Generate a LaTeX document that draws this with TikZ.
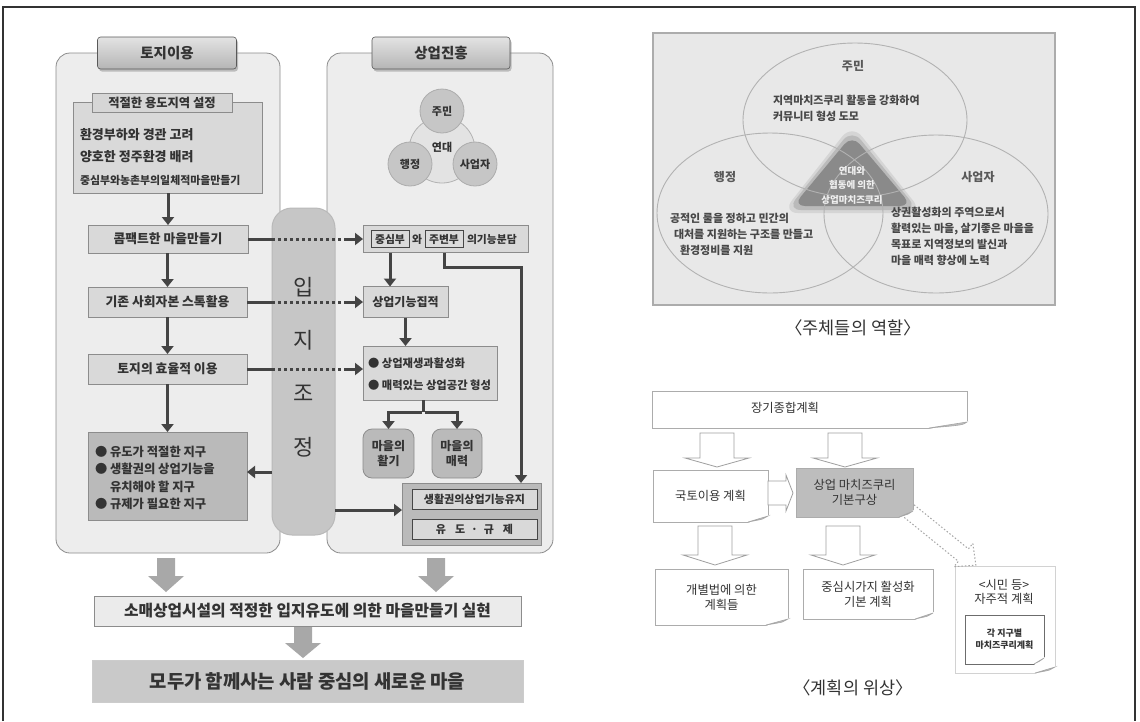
\documentclass[tikz,border=0pt]{standalone}
\usepackage{fontspec}
\setmainfont{Noto Sans CJK KR}
\usetikzlibrary{calc,shadows,arrows.meta}
\definecolor{txt}{HTML}{333333}
\definecolor{panel}{HTML}{EDEDED}
\definecolor{pborder}{HTML}{8C8C8C}
\definecolor{boxlt}{HTML}{D9D9D9}
\definecolor{boxmd}{HTML}{BABABA}
\definecolor{colfill}{HTML}{C6C6C6}
\definecolor{arrowc}{HTML}{444444}
\definecolor{blkarr}{HTML}{A8A8A8}
\definecolor{venn}{HTML}{E8E8E8}
\definecolor{tri}{HTML}{8A8A8A}
\definecolor{plan}{HTML}{BDBDBD}
\tikzset{
  pics/blk/.style args={#1/#2/#3/#4}{code={
    \fill[blkarr] (0,-#2) -- ({#1-#4},-#2) -- ({#1-#4},-#3) -- (#1,0) -- ({#1-#4},#3) -- ({#1-#4},#2) -- (0,#2) -- cycle;}},
  pics/hol/.style args={#1/#2/#3/#4}{code={
    \filldraw[fill=white, draw=gray!75, line width=0.8pt] (0,-#2) -- ({#1-#4},-#2) -- ({#1-#4},-#3) -- (#1,0) -- ({#1-#4},#3) -- ({#1-#4},#2) -- (0,#2) -- cycle;}},
  pics/dotarr/.style args={#1/#2/#3/#4}{code={
    \draw[gray!70, line width=1pt, dash pattern=on 1.5pt off 2pt] (0,-#2) -- ({#1-#4},-#2) -- ({#1-#4},-#3) -- (#1,0) -- ({#1-#4},#3) -- ({#1-#4},#2) -- (0,#2);}},
}
\newcommand{\pcurl}[2]{%
  \fill[white] ([xshift=-#2pt,yshift=-1pt]#1.south east) -- ([xshift=1pt,yshift=-1pt]#1.south east) -- ([xshift=1pt,yshift=7pt]#1.south east) -- cycle;
  \filldraw[fill=gray!50, draw=gray!70, line width=0.6pt] ([xshift=-#2pt]#1.south east) -- ([yshift=6pt]#1.south east) .. controls ([xshift=-4pt,yshift=3pt]#1.south east) .. ([xshift=-#2pt]#1.south east) -- cycle;}
\begin{document}
\begin{tikzpicture}[x=1pt,y=-1pt,
  every node/.style={text=txt, inner sep=0pt, outer sep=0pt},
  panelbox/.style={draw=pborder, fill=panel, rounded corners=14pt, line width=0.8pt},
  titlebox/.style={draw=gray!70!black, top color=gray!22, bottom color=gray!58, rounded corners=3pt,
    drop shadow={shadow xshift=1.5pt, shadow yshift=-2.5pt, opacity=0.45},
    font=\fontsize{14.5}{16}\selectfont\bfseries, line width=0.6pt},
  lbox/.style={draw=pborder, fill=boxlt, line width=0.8pt, font=\fontsize{12.8}{14}\selectfont\bfseries, align=center},
  rbox/.style={draw=pborder, fill=boxlt, line width=0.8pt, font=\fontsize{12}{14}\selectfont\bfseries, align=center},
  mbox/.style={draw=pborder, fill=boxmd, line width=0.8pt, font=\fontsize{12}{15}\selectfont\bfseries, align=center},
  ltxt/.style={font=\fontsize{13}{14}\selectfont\bfseries},
  subbox/.style={draw=gray!55!black, fill=gray!28, line width=0.7pt, minimum width=38pt, minimum height=17pt, font=\fontsize{10.8}{12}\selectfont\bfseries},
  arr/.style={draw=arrowc, line width=3pt, -{Triangle[length=8pt,width=12pt]}},
  thk/.style={draw=arrowc, line width=3pt},
  dotl/.style={draw=arrowc, line width=3pt, dash pattern=on 3pt off 3pt},
  coltxt/.style={font=\fontsize{22}{24}\selectfont},
  smallc/.style={circle, draw=gray!65, fill=gray!45, minimum size=44pt, line width=0.8pt, font=\fontsize{11}{12}\selectfont\bfseries},
  vtxt/.style={font=\fontsize{11}{16}\selectfont\bfseries, align=left, text=black!72},
  vlab/.style={font=\fontsize{12}{14}\selectfont\bfseries, text=black!65},
  paper/.style={draw=gray!65, fill=white, line width=0.8pt, font=\fontsize{12.3}{15}\selectfont, align=center},
  captext/.style={font=\fontsize{17.5}{19}\selectfont, text=black!80}
]
\useasboundingbox (0,0) rectangle (1140,721);
\fill[white] (0,0) rectangle (1140,721);
\draw[line width=1.8pt, black!80] (3,721) -- (3,7) -- (1135,7) -- (1135,721);

% ---------- left diagram: panels ----------
\node[panelbox, minimum width=224pt, minimum height=500pt] (pL) at (168,303) {};
\node[panelbox, minimum width=226pt, minimum height=500pt] (pR) at (440,303) {};
\node[titlebox, minimum width=139pt, minimum height=32pt] (tL) at (167,53) {토지이용};
\node[titlebox, minimum width=138pt, minimum height=32pt] (tR) at (441,53) {상업진흥};

% column
\node[draw=gray!55, fill=colfill, rounded corners=20pt, minimum width=63pt, minimum height=327pt, line width=1pt] (col) at (303.5,371.5) {};
\node[coltxt] (c1) at (303.5,287) {입};
\node[coltxt] (c2) at (303.5,340) {지};
\node[coltxt] (c3) at (303.5,393) {조};
\node[coltxt] (c4) at (303.5,447) {정};

% left boxes
\node[lbox, minimum width=189pt, minimum height=91pt] (A) at (167.5,147.5) {};
\node[lbox, fill=gray!32, minimum width=140pt, minimum height=19pt, font=\fontsize{12.3}{14}\selectfont\bfseries] (Alab) at (162,102.5) {적절한 용도지역 설정};
\node[ltxt, anchor=west] (A1) at (80,135) {환경부하와 경관 고려};
\node[ltxt, anchor=west] (A2) at (80,157) {양호한 정주환경 배려};
\node[ltxt, anchor=west, font=\fontsize{10.9}{14}\selectfont\bfseries] (A3) at (80,180) {중심부와농촌부의일체적마을만들기};
\node[lbox, minimum width=160pt, minimum height=28pt] (B) at (168,239) {콤팩트한 마을만들기};
\node[lbox, minimum width=159pt, minimum height=30pt] (C) at (167.5,302) {기존 사회자본 스톡활용};
\node[lbox, minimum width=159pt, minimum height=30pt] (D) at (167.5,369) {토지의 효율적 이용};
\node[mbox, minimum width=159pt, minimum height=88pt] (E) at (167.5,476) {};
\node[ltxt, anchor=west, align=left, font=\fontsize{12.3}{17.5}\selectfont\bfseries] (Et) at (95,478)
  {● 유도가 적절한 지구\\● 생활권의 상업기능을\\\phantom{●} 유치해야 할 지구\\● 규제가 필요한 지구};

\draw[arr] (A.south -| B) -- (B.north);
\draw[arr] (B.south -| C) -- (C.north);
\draw[arr] (C.south) -- (D.north);
\draw[arr] (D.south) -- (E.north);

% right panel content
\node[circle, draw=gray!60, fill=gray!22, minimum size=66pt, line width=0.8pt] (cbig) at (442,150) {};
\node[smallc] (cj) at (442,111) {주민};
\node[smallc] (ch) at (410,164) {행정};
\node[smallc] (cs) at (475,164) {사업자};
\node[font=\fontsize{11}{12}\selectfont\bfseries] (cy) at (442,147) {연대};

\node[rbox, minimum width=165pt, minimum height=27pt] (F) at (445.5,239) {};
\node[subbox] (F1) at (390,239) {중심부};
\node[font=\fontsize{10.8}{12}\selectfont\bfseries] (Fw) at (417,239) {와};
\node[subbox] (F2) at (444,239) {주변부};
\node[font=\fontsize{10.8}{12}\selectfont\bfseries, anchor=west] (Ft) at (467,239) {의기능분담};

\node[rbox, minimum width=85pt, minimum height=31pt] (G) at (405.5,302) {상업기능집적};
\node[rbox, minimum width=134pt, minimum height=54pt] (H) at (430,373) {};
\node[anchor=west, align=left, font=\fontsize{11.3}{22}\selectfont\bfseries] (Ht) at (368,374)
  {● 상업재생과활성화\\● 매력있는 상업공간 형성};
\node[mbox, rounded corners=9pt, minimum width=51pt, minimum height=49pt] (I) at (388.5,453.5) {마을의\\활기};
\node[mbox, rounded corners=9pt, minimum width=50pt, minimum height=49pt] (J) at (457,453.5) {마을의\\매력};
\node[mbox, minimum width=139pt, minimum height=62pt] (K) at (471.5,514) {};
\node[rbox, draw=gray!55!black, minimum width=125pt, minimum height=20pt, font=\fontsize{11}{13}\selectfont\bfseries] (K1) at (474.5,499) {생활권의상업기능유지};
\node[rbox, draw=gray!55!black, minimum width=125pt, minimum height=20pt, font=\fontsize{11}{13}\selectfont\bfseries] (K2) at (474.5,529) {유\hspace{9pt}도\hspace{6pt}·\hspace{6pt}규\hspace{9pt}제};

\coordinate (turn) at (521,267);
\coordinate (split) at (423,412);
\draw[arr] (F.south -| F1) -- (G.north -| F1);
\draw[arr] (F.south -| F2) |- (turn) -- (turn |- K.north);
\draw[arr] (G.south) -- (G.south |- H.north);
\draw[thk] (H.south -| split) -- (split);
\draw[arr] ([xshift=1.5pt]split) -| (J.north);
\draw[arr] ([xshift=-1.5pt]split) -| (I.north);

% connectors across the column
\draw[thk] (B.east) -- (B.east -| col.west) coordinate (b1);
\draw[dotl] (b1) -- ++(72,0) coordinate (b2);
\draw[arr] (b2) -- (b2 -| F.west);
\draw[thk] (C.east) -- (C.east -| col.west) coordinate (c1a);
\draw[dotl] (c1a) -- ++(72,0) coordinate (c2a);
\draw[arr] (c2a) -- (c2a -| G.west);
\draw[thk] (D.east) -- (D.east -| col.west) coordinate (d1);
\draw[dotl] (d1) -- ++(72,0) coordinate (d2);
\draw[arr] (d2) -- (d2 -| H.west);
\coordinate (eE) at ([yshift=4pt]E.east);
\draw[arr] (col.west |- eE) -- (eE);
\coordinate (kW) at ([yshift=4pt]K.west);
\draw[arr] (col.east |- kW) -- (kW);

% bottom
\pic[rotate=-90] at (166,558) {blk=34/9/18/16};
\pic[rotate=-90] at (436,558) {blk=34/9/18/16};
\node[draw=pborder, fill=gray!16, line width=0.8pt, minimum width=427pt, minimum height=30pt, font=\fontsize{15.8}{17}\selectfont\bfseries] (L) at (307.5,611) {소매상업시설의 적정한 입지유도에 의한 마을만들기 실현};
\pic[rotate=-90] at (303,627) {blk=31/9/18/15};
\node[draw=gray!40, fill=gray!42, minimum width=431pt, minimum height=42pt, font=\fontsize{18.8}{20}\selectfont\bfseries] (M) at (307.5,681) {모두가 함께사는 사람 중심의 새로운 마을};

% ---------- Venn ----------
\node[draw=gray!65, line width=1.5pt, fill=venn, minimum width=402pt, minimum height=272pt] (V) at (854,169) {};
\fill[tri, opacity=0.2, rounded corners=16pt] (852,124) -- (923,213) -- (782,213) -- cycle;
\fill[tri, opacity=0.35, rounded corners=14pt] (852,129) -- (918,210) -- (787,210) -- cycle;
\fill[tri, rounded corners=12pt] (852,135) -- (912,206) -- (793,206) -- cycle;
\draw[gray!60, line width=0.9pt] (855,120) ellipse (112 and 77);
\draw[gray!60, line width=0.9pt] (770,213) ellipse (113 and 80);
\draw[gray!60, line width=0.9pt] (936,214) ellipse (112 and 79);
\node[font=\fontsize{9.5}{14.5}\selectfont\bfseries, align=center, text=gray!12] (Vc) at (852,185) {연대와\\협동에 의한\\상업마치즈쿠리};
\node[vlab] (Vj) at (853,66) {주민};
\node[vlab] (Vh) at (725,177) {행정};
\node[vlab] (Vs) at (978,177) {사업자};
\node[vtxt, anchor=west] (Vjt) at (773,108) {지역마치즈쿠리 활동을 강화하여\\커뮤니티 형성 도모};
\node[vtxt, anchor=west] (Vht) at (670,234.5) {공적인 룰을 정하고 민간의\\\hspace*{4pt}대처를 지원하는 구조를 만들고\\\hspace*{10pt}환경정비를 지원};
\node[vtxt, anchor=west] (Vst) at (891,236) {상권활성화의 주역으로서\\활력있는 마을, 살기좋은 마을을\\목표로 지역정보의 발신과\\마을 매력 향상에 노력};
\node[captext] (cap1) at (853,328) {〈주체들의 역할〉};

% ---------- plan hierarchy ----------
\node[paper, minimum width=315pt, minimum height=37pt] (N1) at (809.5,409.5) {};
\node[font=\fontsize{12.3}{15}\selectfont] (N1t) at (785,408) {장기종합계획};
\pcurl{N1}{38}
\pic[rotate=-90] at (717,433) {hol=34/17/32/9};
\pic[rotate=-90] at (845,433) {hol=34/17/32/9};
\node[paper, minimum width=115pt, minimum height=52pt] (N2) at (710.5,496) {국토이용 계획};
\pcurl{N2}{20}
\node[paper, fill=plan, minimum width=117pt, minimum height=49pt] (N3) at (854.5,492.5) {상업 마치즈쿠리\\기본구상};
\pcurl{N3}{14}
\pic at (768,493) {hol=25/12/18/7};
\pic[rotate=-90] at (715,526) {hol=39/17/32/10};
\pic[rotate=-90] at (843,526) {hol=39/17/32/10};
\node[paper, minimum width=133pt, minimum height=56pt] (N4) at (721.5,597) {개별법에 의한\\계획들};
\pcurl{N4}{22}
\node[paper, minimum width=130pt, minimum height=50pt] (N5) at (868,594) {중심시가지 활성화\\기본 계획};
\pcurl{N5}{18}
\node[paper, draw=gray!35, minimum width=100pt, minimum height=107pt] (N6) at (1005,619.5) {};
\pcurl{N6}{20}
\node[font=\fontsize{12.3}{14.5}\selectfont, align=center] (N6t) at (1004,592) {<시민 등>\\자주적 계획};
\node[paper, draw=gray!85!black, line width=1pt, minimum width=79pt, minimum height=49pt, font=\fontsize{9}{12}\selectfont\bfseries] (N7) at (1004.5,639.5) {각 지구별\\마치즈쿠리계획};
\pcurl{N7}{10}
\pic[rotate=-39] at (909,511) {dotarr=86/8/15/16};
\node[captext] (cap2) at (853,688) {〈계획의 위상〉};
\end{tikzpicture}
\end{document}
